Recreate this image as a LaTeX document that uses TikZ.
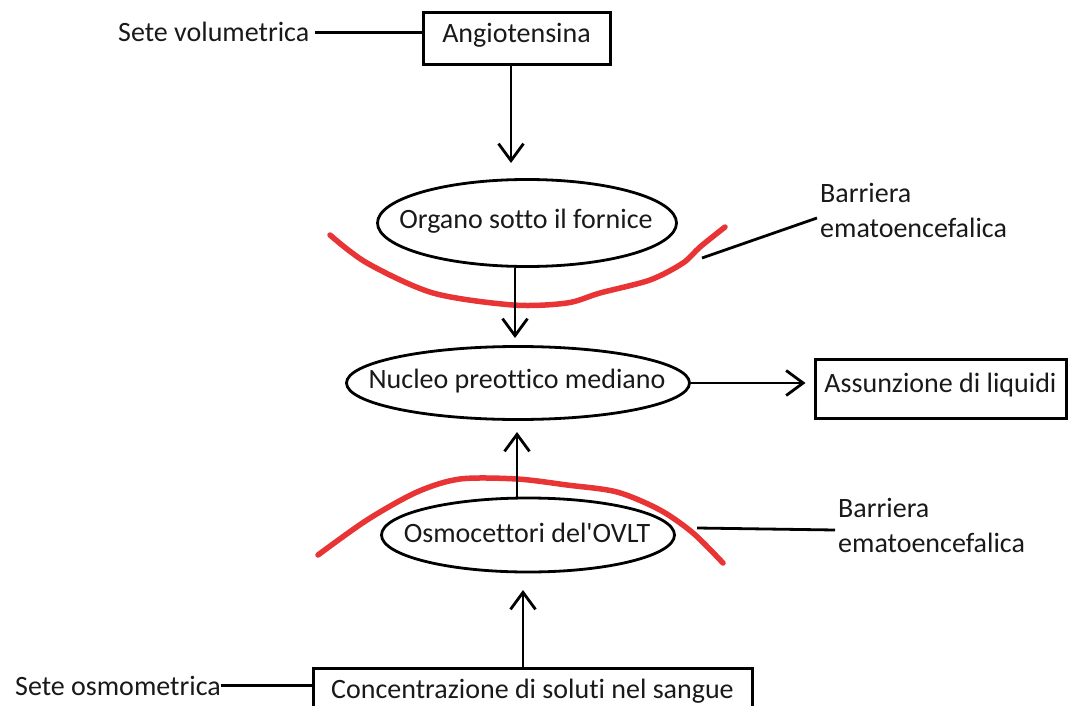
\documentclass[tikz,border=0pt]{standalone}
\usepackage{fontspec}
\setmainfont{Carlito}[Ligatures={ResetAll,NoCommon}]
\usetikzlibrary{shapes.geometric,arrows.meta}
\definecolor{barrier}{RGB}{232,52,52}
\begin{document}
\begin{tikzpicture}[x=1pt,y=-1pt,
  every node/.style={font=\fontsize{28}{35}\selectfont, text=black!90},
  boxnode/.style={draw, line width=3pt, inner sep=0pt, text height=20pt, text depth=12pt},
  ellnode/.style={draw, ellipse, line width=2.8pt, inner sep=0pt},
  ctext/.style={anchor=base, inner sep=0pt},
  lbl/.style={inner sep=0pt, anchor=base west},
  arr/.style={line width=2.8pt, -{Straight Barb[length=17pt,width=25pt]}},
  lead/.style={line width=2.8pt},
  bbb/.style={draw=barrier, line width=5.5pt, line cap=round, line join=round}
]
\useasboundingbox (0,0) rectangle (1068,706);

% red barriers
\draw[bbb] plot[smooth] coordinates {(330,235) (367,263) (433,293) (513,305) (567,303) (600,293) (650,280) (683,263) (700,247) (725,227)};
\draw[bbb] plot[smooth] coordinates {(318,555) (367,520) (417,492) (460,479) (517,479) (567,485) (617,492) (660,510) (693,533) (723,563)};

% nodes
\node[lbl] (sv) at (118,42) {Sete volumetrica};
\node[boxnode, minimum width=187pt, minimum height=52pt] (ang) at (516.5,39) {Angiotensina};
\node[ellnode, minimum width=299pt, minimum height=87pt] (osf) at (527,223) {};
\node[ctext] (osft) at (526,228) {Organo sotto il fornice};
\node[ellnode, minimum width=343pt, minimum height=73pt] (npm) at (518,383) {};
\node[ctext] (npmt) at (517,388) {Nucleo preottico mediano};
\node[boxnode, minimum width=251pt, minimum height=59pt] (al) at (940.5,388.5) {Assunzione di liquidi};
\node[ellnode, minimum width=293pt, minimum height=74pt] (ovlt) at (528,535) {};
\node[ctext] (ovltt) at (527,542) {Osmocettori del\textquotesingle OVLT};
\node[boxnode, minimum width=439pt, minimum height=52pt] (conc) at (532.5,694) {Concentrazione di soluti nel sangue};
\node[lbl] (so) at (15,695) {Sete osmometrica};
\node[lbl, align=left] (b1) at (820,237) {Barriera\\ematoencefalica};
\node[lbl, align=left] (b2) at (838,552) {Barriera\\ematoencefalica};

% plain connectors
\draw[lead] ([xshift=6pt]sv.east) -- (sv.east -| ang.west);
\draw[lead] (so.east) -- (so.east -| conc.west);

% arrows
\coordinate (a1) at (511,163);
\draw[arr] (ang.south -| a1) -- (a1);
\coordinate (a2) at (515,338);
\draw[arr] (osf.south -| a2) -- (a2);
\draw[arr] (npm.east) -- ([xshift=-8pt]npm.east -| al.west);
\coordinate (a4) at (517,432);
\draw[arr] (ovlt.north -| a4) -- (a4);
\coordinate (a5) at (523,590);
\draw[arr] (conc.north -| a5) -- (a5);

% leaders to barriers
\coordinate (l1) at (817,218);
\coordinate (r1) at (702,258);
\draw[lead] (l1) -- (r1);
\coordinate (l2) at (835,530);
\coordinate (r2) at (697,528);
\draw[lead] (l2) -- (r2);
\end{tikzpicture}
\end{document}
